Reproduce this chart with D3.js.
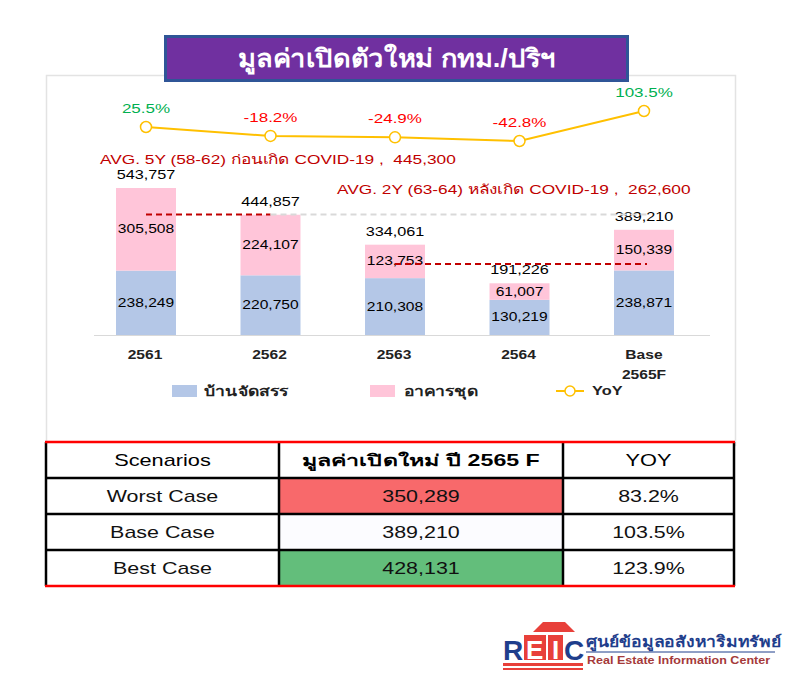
<!DOCTYPE html>
<html>
<head>
<meta charset="utf-8">
<script src="https://cdn.jsdelivr.net/npm/d3@7"></script>
<style>
  body { margin: 0; background: #fff; }
  svg text { font-family: "Liberation Sans", Arial, "Noto Sans", sans-serif; }
</style>
</head>
<body>
<div id="chart"></div>
<script>
// data
var years = ["2561", "2562", "2563", "2564", "Base 2565F"];
var houses = [238249, 220750, 210308, 130219, 238871];     // บ้านจัดสรร
var condos = [305508, 224107, 123753, 61007, 150339];      // อาคารชุด
var yoy = [25.5, -18.2, -24.9, -42.8, 103.5];
var avgBefore = 445300, avgAfter = 262600;

var scenarios = ["Worst Case", "Base Case", "Best Case"];
var scenarioValues = [350289, 389210, 428131];
var scenarioYoy = [83.2, 103.5, 123.9];

var W = 800, H = 700;
var blue = "#B4C7E7", pink = "#FFC5D9", gold = "#FFC000";
var fmt = d3.format(",");
var SX = 1.33; // the original picture is stretched sideways

var svg = d3.select("#chart").append("svg").attr("width", W).attr("height", H);

// text helper: wide text, drawn at (x,y)
function txt(parent, x, y, s, size, anchor, sx) {
  return parent.append("text")
    .attr("transform", "translate(" + x + "," + y + ") scale(" + (sx || SX) + ",1)")
    .attr("text-anchor", anchor || "start")
    .style("font-size", size + "px")
    .attr("fill", "#000")
    .text(s);
}

// chart panel
svg.append("rect").attr("x", 46.5).attr("y", 75.5).attr("width", 689).attr("height", 370)
  .attr("fill", "#fff").attr("stroke", "#E3E3E3").attr("stroke-width", 1.5);

// title box
svg.append("rect").attr("x", 165.5).attr("y", 36.5).attr("width", 462).attr("height", 44)
  .attr("fill", "#7030A0").attr("stroke", "#2F5597").attr("stroke-width", 3);
txt(svg, 397, 67, "มูลค่าเปิดตัวใหม่ กทม./ปริฯ", 25, "middle", 1.09)
  .attr("fill", "#fff").style("font-weight", "bold");

var x = d3.scalePoint().domain(years).range([146, 644]);
var y = d3.scaleLinear().domain([0, 600000]).range([335, 172.8]);
var yY = d3.scaleLinear().domain([-42.8, 103.5]).range([141, 111]);
var bw = 60;

// baseline
svg.append("line").attr("x1", 94).attr("x2", 710).attr("y1", 335.5).attr("y2", 335.5)
  .attr("stroke", "#D9D9D9").attr("stroke-width", 1);

var g = svg.append("g");
years.forEach(function (c, i) {
  var cx = x(c);
  var h0 = y(houses[i]), tot = houses[i] + condos[i], h1 = y(tot);
  g.append("rect").attr("x", cx - bw / 2).attr("width", bw)
    .attr("y", h0).attr("height", y(0) - h0).attr("fill", blue);
  g.append("rect").attr("x", cx - bw / 2).attr("width", bw)
    .attr("y", h1).attr("height", h0 - h1).attr("fill", pink);
  txt(g, cx, (h0 + y(0)) / 2 + 4, fmt(houses[i]), 12, "middle", 1.3);
  txt(g, cx, (h0 + h1) / 2 + 4, fmt(condos[i]), 12, "middle", 1.3);
  txt(g, cx, h1 - 9, fmt(tot), 12.5, "middle", 1.3);
  // category labels
  var parts = c.split(" ");
  parts.forEach(function (p, k) {
    txt(g, cx + (parts.length > 1 ? 0 : -1), 359 + k * 20, p, 12, "middle", 1.3)
      .style("font-weight", "bold").attr("fill", "#222");
  });
});

// average lines
var yA = y(avgBefore), yB = y(avgAfter);
svg.append("line").attr("x1", x(years[0])).attr("x2", x(years[1])).attr("y1", yA).attr("y2", yA)
  .attr("stroke", "#C00000").attr("stroke-width", 2).attr("stroke-dasharray", "6,4");
svg.append("line").attr("x1", x(years[1])).attr("x2", x(years[4]) + 3).attr("y1", yA).attr("y2", yA)
  .attr("stroke", "#D9D9D9").attr("stroke-width", 2).attr("stroke-dasharray", "6,4");
svg.append("line").attr("x1", x(years[2])).attr("x2", x(years[4]) + 3).attr("y1", yB).attr("y2", yB)
  .attr("stroke", "#C00000").attr("stroke-width", 2).attr("stroke-dasharray", "6,4");

txt(svg, 100, 164, "AVG. 5Y (58-62) ก่อนเกิด COVID-19 ,\u00A0\u00A0" + fmt(avgBefore), 13, "start", 1.33)
  .attr("fill", "#C00000");
txt(svg, 337, 194, "AVG. 2Y (63-64) หลังเกิด COVID-19 ,\u00A0\u00A0" + fmt(avgAfter), 13, "start", 1.33)
  .attr("fill", "#C00000");

// YoY line
var line = d3.line().x(function (d, i) { return x(years[i]); }).y(function (d) { return yY(d); });
svg.append("path").datum(yoy).attr("d", line).attr("fill", "none")
  .attr("stroke", gold).attr("stroke-width", 2);
yoy.forEach(function (v, i) {
  svg.append("circle").attr("cx", x(years[i])).attr("cy", yY(v)).attr("r", 5.5)
    .attr("fill", "#fff").attr("stroke", gold).attr("stroke-width", 1.5);
  txt(svg, x(years[i]), yY(v) - 14, v.toFixed(1) + "%", 12.5, "middle", 1.36)
    .attr("fill", v >= 0 ? "#00B050" : "#FF0000");
});

// legend
var lg = svg.append("g");
lg.append("rect").attr("x", 172).attr("y", 385).attr("width", 25).attr("height", 12).attr("fill", blue);
txt(lg, 204, 396, "บ้านจัดสรร", 13.5, "start", 1.3).style("font-weight", "bold").attr("fill", "#222");
lg.append("rect").attr("x", 370).attr("y", 385).attr("width", 25).attr("height", 12).attr("fill", pink);
txt(lg, 404, 396, "อาคารชุด", 13.5, "start", 1.3).style("font-weight", "bold").attr("fill", "#222");
lg.append("line").attr("x1", 556).attr("x2", 584).attr("y1", 391).attr("y2", 391)
  .attr("stroke", gold).attr("stroke-width", 2);
lg.append("circle").attr("cx", 570).attr("cy", 391).attr("r", 5).attr("fill", "#fff")
  .attr("stroke", gold).attr("stroke-width", 1.5);
txt(lg, 592, 395, "YoY", 12, "start", 1.36).style("font-weight", "bold").attr("fill", "#222");

// table
var colX = [46, 279, 563, 734];
var rowY = [442, 478, 514, 550, 586];
var cellFill = ["#F8696B", "#FCFCFF", "#63BE7B"];
var tg = svg.append("g");
tg.append("rect").attr("x", colX[0]).attr("y", rowY[0]).attr("width", colX[3] - colX[0])
  .attr("height", rowY[4] - rowY[0]).attr("fill", "#fff");
scenarios.forEach(function (s, i) {
  tg.append("rect").attr("x", colX[1]).attr("y", rowY[i + 1])
    .attr("width", colX[2] - colX[1]).attr("height", rowY[i + 2] - rowY[i + 1]).attr("fill", cellFill[i]);
});
var header = ["Scenarios", "มูลค่าเปิดใหม่ ปี 2565 F", "YOY"];
header.forEach(function (h, j) {
  txt(tg, (colX[j] + colX[j + 1]) / 2, rowY[0] + 24, h, 16, "middle", j === 1 ? 1.45 : 1.36)
    .style("font-weight", j === 1 ? "bold" : "normal");
});
scenarios.forEach(function (s, i) {
  var cells = [s, fmt(scenarioValues[i]), scenarioYoy[i].toFixed(1) + "%"];
  cells.forEach(function (t, j) {
    txt(tg, (colX[j] + colX[j + 1]) / 2, rowY[i + 1] + 24, t, 16, "middle", 1.34).attr("fill", "#111");
  });
});
// grid
rowY.slice(1, 4).forEach(function (ry) {
  tg.append("line").attr("x1", colX[0]).attr("x2", colX[3]).attr("y1", ry).attr("y2", ry)
    .attr("stroke", "#000").attr("stroke-width", 2.5);
});
colX.forEach(function (cx) {
  tg.append("line").attr("x1", cx).attr("x2", cx).attr("y1", rowY[0]).attr("y2", rowY[4])
    .attr("stroke", "#000").attr("stroke-width", 2.5);
});
[rowY[0], rowY[4]].forEach(function (ry) {
  tg.append("line").attr("x1", colX[0] - 1).attr("x2", colX[3] + 1).attr("y1", ry).attr("y2", ry)
    .attr("stroke", "#FF0000").attr("stroke-width", 2.5);
});

// REIC logo (approximation)
var lo = svg.append("g").attr("transform", "translate(503,620)");
lo.append("path").attr("d", "M30,12 L40,2 L62,2 L72,12 Z").attr("fill", "#E8403A");
lo.append("rect").attr("x", 0).attr("y", 43).attr("width", 80).attr("height", 3).attr("fill", "#E8403A");
lo.append("rect").attr("x", 0).attr("y", 48).attr("width", 80).attr("height", 2).attr("fill", "#E8403A");
txt(lo, 0, 40, "R", 28, "start", 1).style("font-weight", "bold").attr("fill", "#1F3E8C");
lo.append("rect").attr("x", 21).attr("y", 15).attr("width", 22).attr("height", 25).attr("fill", "#E8403A");
txt(lo, 23, 39, "E", 26, "start", 1).style("font-weight", "bold").attr("fill", "#fff");
lo.append("rect").attr("x", 45).attr("y", 15).attr("width", 15).attr("height", 25).attr("fill", "#E8403A");
txt(lo, 49, 39, "I", 26, "start", 1).style("font-weight", "bold").attr("fill", "#fff");
txt(lo, 61, 40, "C", 28, "start", 1).style("font-weight", "bold").attr("fill", "#1F3E8C");
txt(lo, 83, 27, "ศูนย์ข้อมูลอสังหาริมทรัพย์", 15, "start", 1.17).style("font-weight", "bold").attr("fill", "#1F3E8C");
lo.append("line").attr("x1", 83).attr("x2", 272).attr("y1", 32).attr("y2", 32)
  .attr("stroke", "#1F3E8C").attr("stroke-width", 1);
txt(lo, 84, 44, "Real Estate Information Center", 11, "start", 1.14).style("font-weight", "bold").attr("fill", "#A53A3A");
</script>
</body>
</html>
